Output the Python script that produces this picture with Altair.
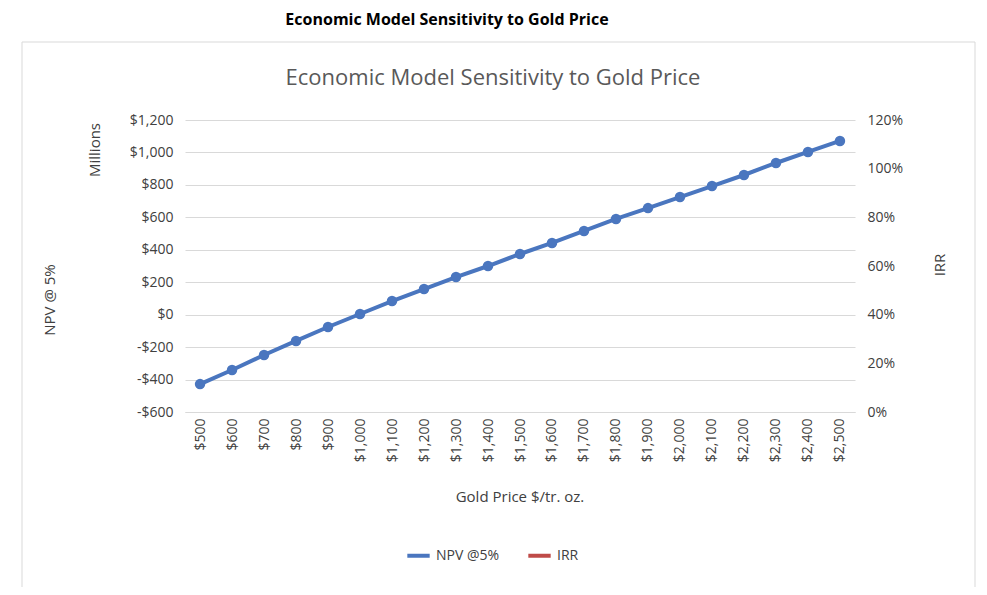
import altair as alt
import pandas as pd

gold = ["$500", "$600", "$700", "$800", "$900", "$1,000", "$1,100", "$1,200", "$1,300",
        "$1,400", "$1,500", "$1,600", "$1,700", "$1,800", "$1,900", "$2,000", "$2,100",
        "$2,200", "$2,300", "$2,400", "$2,500"]
npv = [-428, -341, -249, -162, -76, 4, 84, 158, 232, 300, 374, 442, 516, 590, 657,
       725, 793, 861, 935, 1003, 1071]
irr = [0, 0, 0, 0, 0, 7.8, 18.9, 26.7, 34.1, 40.3, 46.4, 52.2, 58.0, 63.7, 69.0,
       74.4, 80.1, 85.5, 91.2, 96.1, 101.5]

df = pd.DataFrame({"gold": gold, "npv": npv, "irr": irr})
FONT = "Open Sans"
BLUE, RED = "#4a76bf", "#bf4b48"

x = alt.X("gold:N", sort=gold, scale=alt.Scale(padding=0.47),
          axis=alt.Axis(title=None, labelAngle=-90, labelFontSize=14, labelColor="#404040",
                        ticks=False, domainColor="#d9d9d9", labelPadding=6, labelFont=FONT))
color = alt.Color("s:N", scale=alt.Scale(domain=["NPV @5%", "IRR"], range=[BLUE, RED]),
                  legend=alt.Legend(title=None, orient="none", legendX=220, legendY=422,
                                    direction="horizontal", symbolType="stroke",
                                    symbolStrokeWidth=4, symbolSize=500, labelFontSize=14,
                                    labelFont=FONT, labelColor="#404040", columnPadding=20))

base = alt.Chart(df)
npv_line = base.mark_line(strokeWidth=4, point=alt.OverlayMarkDef(size=110, filled=True, opacity=1)).encode(
    x=x,
    y=alt.Y("npv:Q", scale=alt.Scale(domain=[-600, 1200], nice=False),
            axis=alt.Axis(title=None, values=list(range(-600, 1201, 200)), ticks=False, domain=False,
                          gridColor="#d9d9d9", labelFontSize=14, labelColor="#404040", labelFont=FONT,
                          labelPadding=12,
                          labelExpr="(datum.value < 0 ? '-' : '') + '$' + format(abs(datum.value), ',')")),
    color=alt.datum("NPV @5%"),
)
irr_line = base.mark_line(strokeWidth=4, point=alt.OverlayMarkDef(size=110, filled=True, opacity=1)).encode(
    x=x,
    y=alt.Y("irr:Q", scale=alt.Scale(domain=[0, 120], nice=False),
            axis=alt.Axis(title=None, orient="right", values=list(range(0, 121, 20)), ticks=False,
                          domain=False, grid=False, labelFontSize=14, labelColor="#404040",
                          labelFont=FONT, labelPadding=12, labelExpr="datum.value + '%'")),
    color=color,
)

txt = pd.DataFrame({"t": ["Economic Model Sensitivity to Gold Price"]})
def label(text, xp, yp, size=15, angle=0, weight="normal", col="#404040"):
    return alt.Chart(pd.DataFrame({"t": [text]})).mark_text(
        fontSize=size, angle=angle, fontWeight=weight, color=col, font=FONT
    ).encode(text="t:N", x=alt.value(xp), y=alt.value(yp))

box = alt.Chart(txt).mark_rect(fill=None, stroke="#d9d9d9").encode(
    x=alt.value(-163), x2=alt.value(790), y=alt.value(-78), y2=alt.value(470))

chart = alt.layer(
    box,
    npv_line,
    irr_line,
    label("Economic Model Sensitivity to Gold Price", 262, -100, size=16, weight="bold", col="black"),
    label("Economic Model Sensitivity to Gold Price", 308, -42, size=22, col="#595959"),
    label("NPV @ 5%", -135, 180, angle=270),
    label("Millions", -90, 30, angle=270),
    label("IRR", 755, 145, angle=270),
    label("Gold Price $/tr. oz.", 335, 377),
).resolve_scale(y="independent").properties(
    width=670, height=292,
    autosize=alt.AutoSizeParams(type="none"),
    padding={"left": 177, "top": 112, "right": 124, "bottom": 175},
).configure_view(stroke=None)

chart.save("out.html", embed_options={"renderer": "svg", "actions": False})
